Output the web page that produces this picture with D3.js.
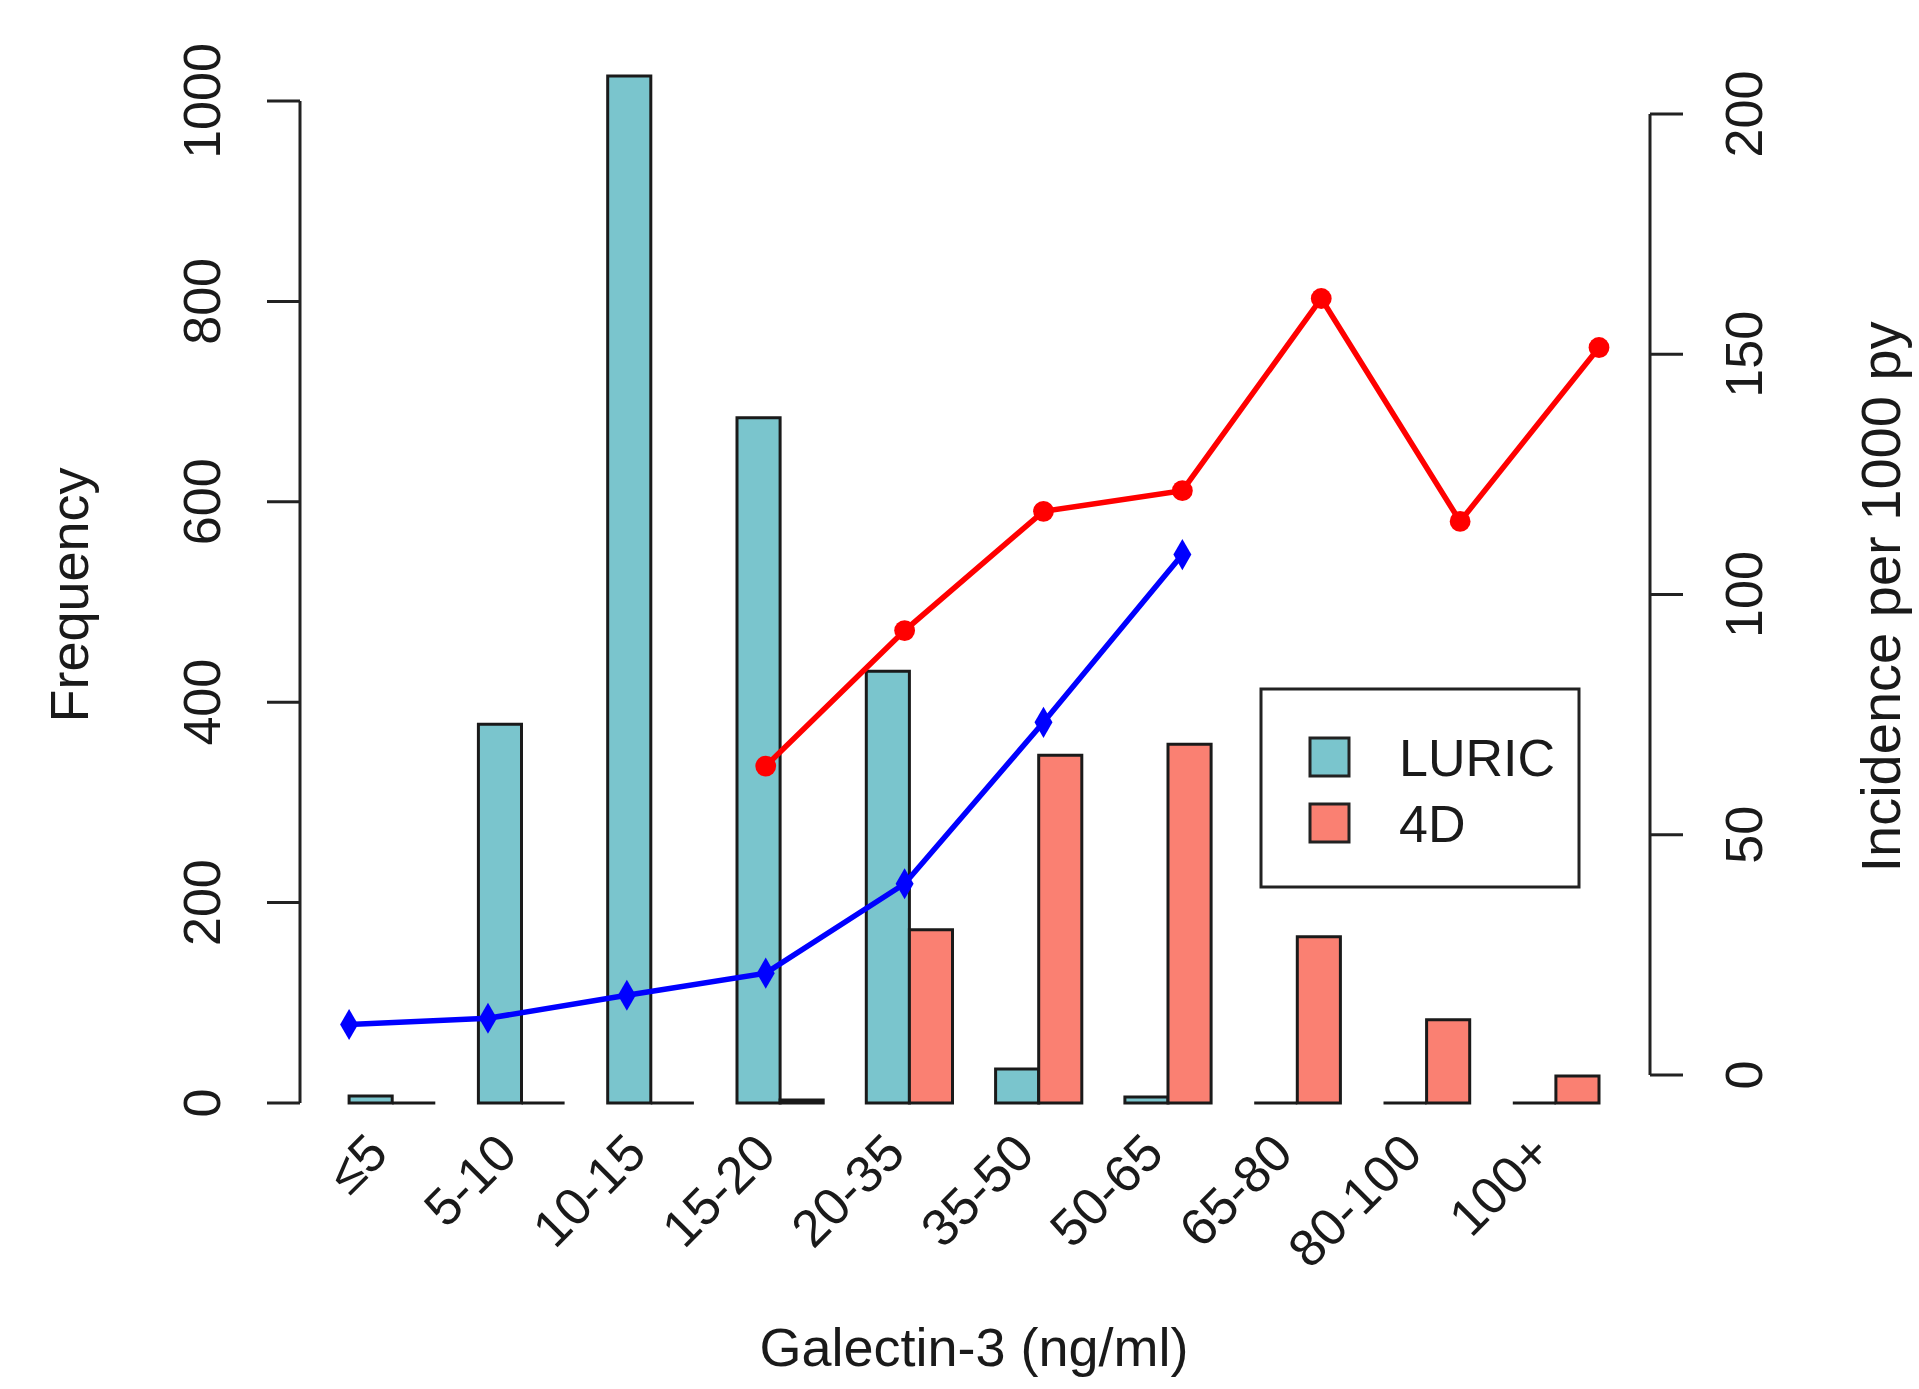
<!DOCTYPE html>
<html>
<head>
<meta charset="utf-8">
<script src="https://cdn.jsdelivr.net/npm/d3@7"></script>
<style>
  body { margin: 0; background: #ffffff; }
  svg text { font-family: "Liberation Sans", Arial, sans-serif; fill: #1a1a1a; }
</style>
</head>
<body>
<svg id="chart" width="1919" height="1389"></svg>
<script>
// ----------- DATA ------------
const categories = ["≤5", "5-10", "10-15", "15-20", "20-35", "35-50", "50-65", "65-80", "80-100", "100+"];
// frequency (left axis)
const luricFreq = [7, 378, 1025, 684, 431, 34, 6, 0, 0, 0];
const fourDFreq = [0, 0, 0, 3, 173, 347, 358, 166, 83, 27];
// incidence per 1000 py (right axis), null = not drawn
const luricIncidence = [10.5, 11.8, 16.6, 21.2, 39.8, 73.4, 108.3, null, null, null];
const fourDIncidence = [null, null, null, 64.3, 92.5, 117.3, 121.6, 161.6, 115.2, 151.4];
const freqTicks = [0, 200, 400, 600, 800, 1000];
const incTicks = [0, 50, 100, 150, 200];

const COLOR_LURIC = "#7ac5cd";
const COLOR_4D = "#fa8072";
const FONT = 52;

const svg = d3.select("#chart");

// ----------- SCALES ------------
// bar positions in barplot units: groups of 2 bars with 1 unit space before each group
const x = d3.scaleLinear().domain([0, 30]).range([306, 1599]);
const yLeft = d3.scaleLinear().domain([0, 1000]).range([1103, 101]);
const yRight = d3.scaleLinear().domain([0, 200]).range([1075, 114]);
// incidence points are spread evenly from first bar edge to last bar edge
const xLine = d3.scaleLinear().domain([0, categories.length - 1]).range([x(1), x(30)]);

// ----------- BARS ------------
const bars = [];
categories.forEach((c, i) => {
    bars.push({ x0: 1 + 3 * i, v: luricFreq[i], fill: COLOR_LURIC });
    bars.push({ x0: 2 + 3 * i, v: fourDFreq[i], fill: COLOR_4D });
});

// paths so that zero-height bars still show as a line
svg.append("g")
    .selectAll("path")
    .data(bars)
    .join("path")
    .attr("d", d => {
        const l = x(d.x0), r = x(d.x0 + 1), b = yLeft(0), t = yLeft(d.v);
        return `M${l},${b}H${r}V${t}H${l}Z`;
    })
    .attr("fill", d => d.fill)
    .attr("stroke", "#1a1a1a")
    .attr("stroke-width", 3)
    .attr("stroke-linejoin", "miter");

// ----------- LEFT AXIS ------------
const leftAxis = svg.append("g").attr("transform", `translate(${x(0) - 6},0)`);
leftAxis.append("line")
    .attr("y1", yLeft(0)).attr("y2", yLeft(1000))
    .attr("stroke", "#222").attr("stroke-width", 3);
leftAxis.selectAll(".tick")
    .data(freqTicks)
    .join("line")
    .attr("x1", -33).attr("x2", 0)
    .attr("y1", d => yLeft(d)).attr("y2", d => yLeft(d))
    .attr("stroke", "#222").attr("stroke-width", 3);
leftAxis.selectAll(".label")
    .data(freqTicks)
    .join("text")
    .attr("transform", d => `translate(-80,${yLeft(d)}) rotate(-90)`)
    .attr("text-anchor", "middle")
    .attr("font-size", FONT)
    .text(d => d);

svg.append("text")
    .attr("transform", "translate(88,595) rotate(-90)")
    .attr("text-anchor", "middle")
    .attr("font-size", FONT + 2)
    .text("Frequency");

// ----------- RIGHT AXIS ------------
const rightAxis = svg.append("g").attr("transform", "translate(1650,0)");
rightAxis.append("line")
    .attr("y1", yRight(0)).attr("y2", yRight(200))
    .attr("stroke", "#222").attr("stroke-width", 3);
rightAxis.selectAll(".tick")
    .data(incTicks)
    .join("line")
    .attr("x1", 0).attr("x2", 33)
    .attr("y1", d => yRight(d)).attr("y2", d => yRight(d))
    .attr("stroke", "#222").attr("stroke-width", 3);
rightAxis.selectAll(".label")
    .data(incTicks)
    .join("text")
    .attr("transform", d => `translate(112,${yRight(d)}) rotate(-90)`)
    .attr("text-anchor", "middle")
    .attr("font-size", FONT)
    .text(d => d);

svg.append("text")
    .attr("transform", "translate(1900,597) rotate(-90)")
    .attr("text-anchor", "middle")
    .attr("font-size", FONT + 4)
    .text("Incidence per 1000 py");

// ----------- X LABELS ------------
svg.append("g")
    .selectAll("text")
    .data(categories)
    .join("text")
    .attr("transform", (d, i) => `translate(${x(2 + 3 * i) - 2},1156) rotate(-45)`)
    .attr("text-anchor", "end")
    .attr("font-size", FONT)
    .text(d => d);

svg.append("text")
    .attr("x", 974)
    .attr("y", 1366)
    .attr("text-anchor", "middle")
    .attr("font-size", FONT + 2)
    .text("Galectin-3 (ng/ml)");

// ----------- INCIDENCE LINES ------------
const drawSeries = (values, color, symbol, size) => {
    const pts = values.map((v, i) => ({ i, v })).filter(d => d.v !== null);
    svg.append("path")
        .datum(pts)
        .attr("d", d3.line().x(d => xLine(d.i)).y(d => yRight(d.v)))
        .attr("fill", "none")
        .attr("stroke", color)
        .attr("stroke-width", 5.5);
    svg.append("g")
        .selectAll("path")
        .data(pts)
        .join("path")
        .attr("transform", d => `translate(${xLine(d.i)},${yRight(d.v)})`)
        .attr("d", d3.symbol().type(symbol).size(size))
        .attr("fill", color);
};
drawSeries(luricIncidence, "#0000ff", d3.symbolDiamond, 280);
drawSeries(fourDIncidence, "#ff0000", d3.symbolCircle, 340);

// ----------- LEGEND ------------
const legend = svg.append("g");
legend.append("rect")
    .attr("x", 1261).attr("y", 689)
    .attr("width", 318).attr("height", 198)
    .attr("fill", "#ffffff")
    .attr("stroke", "#222")
    .attr("stroke-width", 3);
const legendItems = [
    { label: "LURIC", fill: COLOR_LURIC },
    { label: "4D", fill: COLOR_4D },
];
legendItems.forEach((d, i) => {
    legend.append("rect")
        .attr("x", 1310).attr("y", 738 + i * 66)
        .attr("width", 39).attr("height", 38)
        .attr("fill", d.fill)
        .attr("stroke", "#222")
        .attr("stroke-width", 3);
    legend.append("text")
        .attr("x", 1399).attr("y", 776 + i * 66)
        .attr("font-size", FONT)
        .text(d.label);
});
</script>
</body>
</html>
